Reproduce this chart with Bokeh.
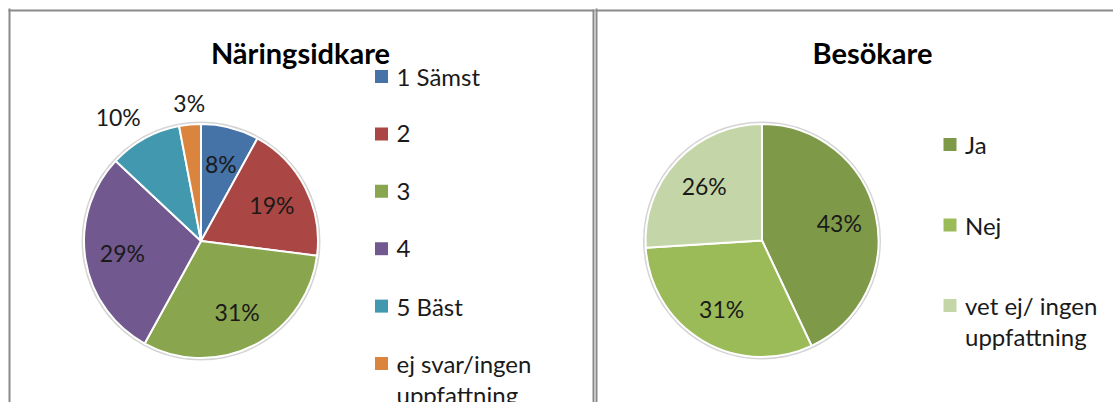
import math
from bokeh.plotting import figure
from bokeh.models import Range1d
from bokeh.core.properties import value
from bokeh.embed import file_html
from bokeh.resources import INLINE

# ---------------- data ----------------
left_title = "Näringsidkare"
left_categories = ["1 Sämst", "2", "3", "4", "5 Bäst", "ej svar/ingen\nuppfattning"]
left_values = [8, 19, 31, 29, 10, 3]
left_colors = ["#4572A7", "#AA4643", "#89A54E", "#71588F", "#4198AF", "#DB843D"]
left_label_outside = [False, False, False, False, True, True]

right_title = "Besökare"
right_categories = ["Ja", "Nej", "vet ej/ ingen\nuppfattning"]
right_values = [43, 31, 26]
right_colors = ["#7E9A48", "#9BBB59", "#C4D6A8"]
right_label_outside = [False, False, False]

# ---------------- layout ----------------
W, H = 1113, 402
FONT = value("Lato")
TXT = "#1a1a1a"

p = figure(width=W, height=H, output_backend="svg", toolbar_location=None,
           x_range=Range1d(0, W), y_range=Range1d(-H, 0),
           min_border=0, min_border_left=0, min_border_right=0,
           min_border_top=0, min_border_bottom=0)
p.axis.visible = False
p.xaxis.visible = False
p.yaxis.visible = False
p.grid.visible = False
p.outline_line_color = None
p.background_fill_color = "white"
p.border_fill_color = "white"

# panel frames
p.segment(x0=[9, 8, 593, 596, 595], y0=[-8, -10, -9, -8, -10],
          x1=[9, 594, 593, 596, 1113], y1=[-402, -10, -402, -402, -10],
          line_color="#8a8a8a", line_width=2)


def draw_pie(cx, cy, r, values, colors, outside, title, tx, categories,
             leg_x, leg_y0, leg_step):
    total = float(sum(values))
    # soft shadow ring
    p.circle(x=[cx], y=[-cy], radius=r + 2.5, fill_color="#d4d4d4",
             line_color=None)
    cum = 0.0
    starts, ends, mids = [], [], []
    for v in values:
        a0 = math.pi / 2 - 2 * math.pi * cum / total
        cum += v
        a1 = math.pi / 2 - 2 * math.pi * cum / total
        starts.append(a1)
        ends.append(a0)
        mids.append((a0 + a1) / 2)
    p.wedge(x=[cx] * len(values), y=[-cy] * len(values), radius=r,
            start_angle=starts, end_angle=ends, direction="anticlock",
            fill_color=colors, line_color="white", line_width=2)
    # labels
    for v, m, out in zip(values, mids, outside):
        txt = "%d%%" % v
        dx, dy = math.cos(m), math.sin(m)
        if not out:
            p.text(x=[cx + 0.68 * r * dx], y=[-cy + 0.68 * r * dy], text=[txt],
                   text_font=FONT, text_font_size="23px", text_color=TXT,
                   text_align="center", text_baseline="middle")
        else:
            ax, ay = cx + (r + 8) * dx, -cy + (r + 8) * dy
            align = "center" if abs(dx) < 0.3 else ("left" if dx > 0 else "right")
            base = "bottom" if dy > 0 else "top"
            p.text(x=[ax], y=[ay], text=[txt], text_font=FONT,
                   text_font_size="23px", text_color=TXT,
                   text_align=align, text_baseline=base)
    # title
    p.text(x=[tx], y=[-52], text=[title], text_font=FONT,
           text_font_size="29px", text_font_style="bold", text_color="#000000",
           text_align="center", text_baseline="middle")
    # legend
    for i, (cat, col) in enumerate(zip(categories, colors)):
        yy = leg_y0 + i * leg_step
        p.rect(x=[leg_x], y=[-yy], width=13, height=13, fill_color=col,
               line_color=None)
        for j, line in enumerate(cat.split("\n")):
            p.text(x=[leg_x + 15], y=[-(yy + j * 31)], text=[line],
                   text_font=FONT, text_font_size="24px", text_color=TXT,
                   text_align="left", text_baseline="middle")


draw_pie(200.5, 240.5, 117, left_values, left_colors, left_label_outside,
         left_title, 300, left_categories, 381, 76, 57.4)
draw_pie(761.5, 240, 116.5, right_values, right_colors, right_label_outside,
         right_title, 872, right_categories, 949.5, 144, 80.5)

open("out.html", "w").write(file_html(p, INLINE))
